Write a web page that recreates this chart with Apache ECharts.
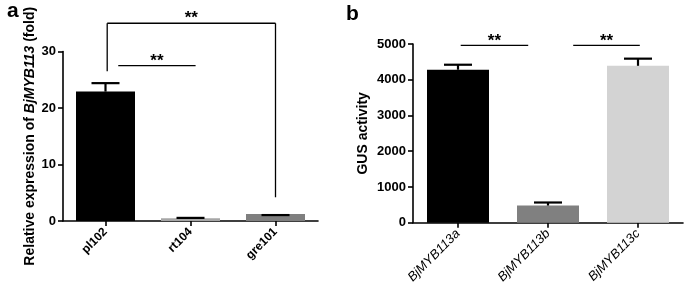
<!DOCTYPE html>
<html>
<head>
<meta charset="utf-8">
<script src="https://cdn.jsdelivr.net/npm/echarts@6/dist/echarts.min.js"></script>
<style>html,body{margin:0;padding:0;background:#fff}#c{width:685px;height:289px}</style>
</head>
<body>
<div id="c"></div>
<script>
// Panel a
const catsA = ['pl102', 'rt104', 'gre101'];
const valsA = [22.9, 0.5, 1.25];
const errA = [24.4, 0.55, 1.05];
const colorsA = ['#000000', '#a6a6a6', '#7f7f7f'];
// brackets: [fromCat, toCat, y, leftDropTo, rightDropTo]
const bracketsA = [[0.02, 2.0, 35.0, 26.5, 4.2], [0.15, 1.06, 27.5, 27.5, 27.5]];
const ticksA = [0, 10, 20, 30];

// Panel b
const catsB = ['BjMYB113a', 'BjMYB113b', 'BjMYB113c'];
const valsB = [4280, 480, 4390];
const errB = [4420, 565, 4590];
const colorsB = ['#000000', '#808080', '#d3d3d3'];
const bracketsB = [[0.03, 0.78, 4960, 4960, 4960], [1.28, 2.02, 4960, 4960, 4960]];
const ticksB = [0, 1000, 2000, 3000, 4000, 5000];
const sigLabel = '**';

const FONT = 'Liberation Sans, Arial, sans-serif';
const chart = echarts.init(document.getElementById('c'), null, {renderer: 'canvas'});

function errRender(params, api) {
  const x = api.value(0);
  const v = api.value(1), e = api.value(2);
  const pv = api.coord([x, v]);
  const pe = api.coord([x, e]);
  const cap = 28;
  const style = {stroke: '#000', lineWidth: 2.2};
  const children = [
    {type: 'line', shape: {x1: pe[0] - cap / 2, y1: pe[1], x2: pe[0] + cap / 2, y2: pe[1]}, style}
  ];
  if (e > v) children.push({type: 'line', shape: {x1: pe[0], y1: pe[1], x2: pv[0], y2: pv[1]}, style});
  return {type: 'group', children};
}

function bracketRender(params, api) {
  const f1 = api.value(0), f2 = api.value(1), y = api.value(2), yl = api.value(3), yr = api.value(4);
  const band = api.size([1, 0])[0];
  const base = api.coord([0, y]);
  const x1 = base[0] + f1 * band, x2 = base[0] + f2 * band;
  const py = base[1];
  const pyl = api.coord([0, yl])[1], pyr = api.coord([0, yr])[1];
  const style = {stroke: '#000', lineWidth: 1.3};
  const children = [{type: 'line', shape: {x1, y1: py, x2, y2: py}, style}];
  if (pyl !== py) children.push({type: 'line', shape: {x1, y1: py, x2: x1, y2: pyl}, style});
  if (pyr !== py) children.push({type: 'line', shape: {x1: x2, y1: py, x2, y2: pyr}, style});
  children.push({type: 'text', style: {text: sigLabel, x: (x1 + x2) / 2, y: py + 4, textAlign: 'center', textVerticalAlign: 'bottom', font: 'bold 17px ' + FONT, fill: '#000'}});
  return {type: 'group', children};
}

function axisCommon() {
  return {
    axisLine: {show: true, lineStyle: {color: '#000', width: 1.6}},
    axisTick: {show: true, length: 5, lineStyle: {color: '#000', width: 1.6}},
    splitLine: {show: false}
  };
}

const option = {
  animation: false,
  backgroundColor: '#fff',
  title: [
    {text: 'a', left: 2, top: -4, textStyle: {fontFamily: FONT, fontWeight: 'bold', fontSize: 21, color: '#000'}},
    {text: 'b', left: 341, top: -1, textStyle: {fontFamily: FONT, fontWeight: 'bold', fontSize: 21, color: '#000'}}
  ],
  grid: [
    {left: 63, top: 51.5, width: 255, height: 169.5},
    {left: 413, top: 44, width: 270, height: 178.7}
  ],
  xAxis: [
    Object.assign(axisCommon(), {
      type: 'category', gridIndex: 0, data: catsA,
      axisTick: {show: true, alignWithLabel: true, length: 5, lineStyle: {color: '#000', width: 1.6}},
      axisLabel: {rotate: 45, color: '#000', fontFamily: FONT, fontWeight: 'bold', fontSize: 12, margin: 9}
    }),
    Object.assign(axisCommon(), {
      type: 'category', gridIndex: 1, data: catsB,
      axisTick: {show: true, alignWithLabel: true, length: 5, lineStyle: {color: '#000', width: 1.6}},
      axisLabel: {rotate: 45, color: '#000', fontFamily: FONT, fontStyle: 'italic', fontSize: 13, margin: 9}
    })
  ],
  yAxis: [
    Object.assign(axisCommon(), {
      type: 'value', gridIndex: 0, min: ticksA[0], max: ticksA[ticksA.length - 1], interval: 10,
      axisLabel: {color: '#000', fontFamily: FONT, fontWeight: 'bold', fontSize: 13, margin: 7, formatter: v => String(v)},
      name: '{n|Relative expression of }{i|BjMYB113}{n| (fold)}',
      nameLocation: 'middle', nameGap: 25,
      nameTextStyle: {rich: {
        n: {fontFamily: FONT, fontWeight: 'bold', fontSize: 14, color: '#000'},
        i: {fontFamily: FONT, fontWeight: 'bold', fontStyle: 'italic', fontSize: 14, color: '#000'}
      }}
    }),
    Object.assign(axisCommon(), {
      type: 'value', gridIndex: 1, min: ticksB[0], max: ticksB[ticksB.length - 1], interval: 1000,
      axisLabel: {color: '#000', fontFamily: FONT, fontWeight: 'bold', fontSize: 13, margin: 7, formatter: v => String(v)},
      name: 'GUS activity', nameLocation: 'middle', nameGap: 43,
      nameTextStyle: {fontFamily: FONT, fontWeight: 'bold', fontSize: 14, color: '#000'}
    })
  ],
  series: [
    {type: 'bar', xAxisIndex: 0, yAxisIndex: 0, barWidth: 59,
      data: valsA.map((v, i) => ({value: v, itemStyle: {color: colorsA[i]}}))},
    {type: 'bar', xAxisIndex: 1, yAxisIndex: 1, barWidth: 62,
      data: valsB.map((v, i) => ({value: v, itemStyle: {color: colorsB[i]}}))},
    {type: 'custom', xAxisIndex: 0, yAxisIndex: 0, renderItem: errRender, z: 5,
      data: valsA.map((v, i) => [i, v, errA[i]])},
    {type: 'custom', xAxisIndex: 1, yAxisIndex: 1, renderItem: errRender, z: 5,
      data: valsB.map((v, i) => [i, v, errB[i]])},
    {type: 'custom', xAxisIndex: 0, yAxisIndex: 0, renderItem: bracketRender, clip: false, z: 6,
      data: bracketsA},
    {type: 'custom', xAxisIndex: 1, yAxisIndex: 1, renderItem: bracketRender, clip: false, z: 6,
      data: bracketsB}
  ]
};
chart.setOption(option);
</script>
</body>
</html>
